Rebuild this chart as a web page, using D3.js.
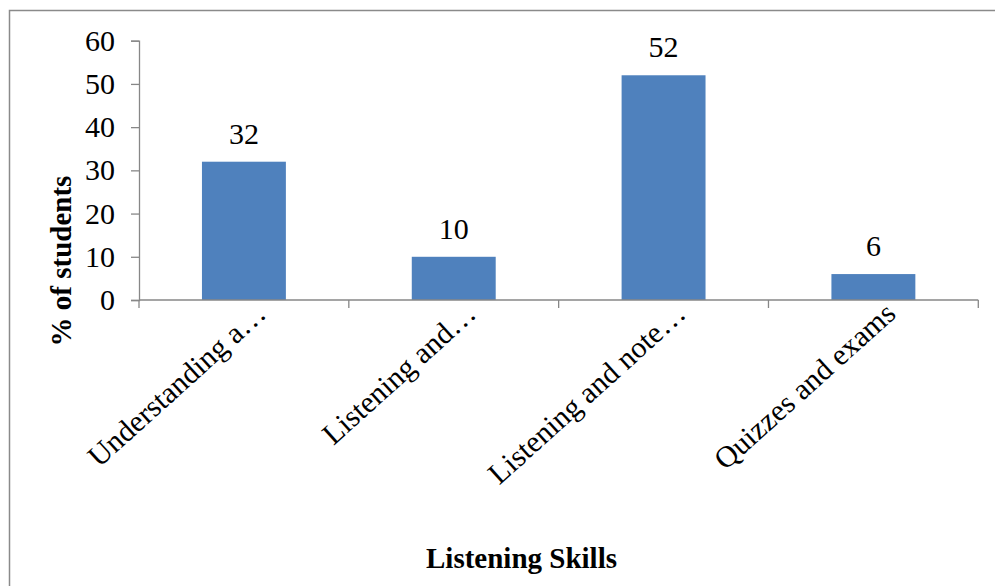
<!DOCTYPE html>
<html>
<head>
<meta charset="utf-8">
<script src="https://cdn.jsdelivr.net/npm/d3@7"></script>
<style>
  html, body { margin: 0; padding: 0; background: #ffffff; }
  svg { display: block; }
  text { font-family: "Liberation Serif", "Times New Roman", serif; fill: #000; }
</style>
</head>
<body>
<svg id="chart" width="995" height="586"></svg>
<script>
// Survey results: share of students naming each listening skill
const categories = ["Understanding a…", "Listening and…", "Listening and note…", "Quizzes and exams"];
const values = [32, 10, 52, 6];
const yTicks = [0, 10, 20, 30, 40, 50, 60];
const yTitle = "% of students";
const xTitle = "Listening Skills";

const W = 995, H = 586;
const plot = { left: 139, right: 978.3, top: 40.7, bottom: 300 };
const axisColor = "#878787";
const barColor = "#4F81BD";

const svg = d3.select("#chart");

// chart-area frame
svg.append("rect")
  .attr("x", 9.5).attr("y", 10.5)
  .attr("width", 1200).attr("height", 1000)
  .attr("fill", "#fff")
  .attr("stroke", "#8a8a8a")
  .attr("stroke-width", 1.5);

const x = d3.scaleBand()
  .domain(categories)
  .range([plot.left, plot.right])
  .paddingInner(0.6)
  .paddingOuter(0.3);

const y = d3.scaleLinear()
  .domain([0, 60])
  .range([plot.bottom, plot.top]);

// bars
svg.append("g").selectAll("rect")
  .data(categories)
  .join("rect")
  .attr("x", d => x(d))
  .attr("width", x.bandwidth())
  .attr("y", (d, i) => y(values[i]))
  .attr("height", (d, i) => y(0) - y(values[i]))
  .attr("fill", barColor);

// value labels above bars
svg.append("g").selectAll("text")
  .data(categories)
  .join("text")
  .attr("x", d => x(d) + x.bandwidth() / 2)
  .attr("y", (d, i) => y(values[i]) - 18)
  .attr("text-anchor", "middle")
  .style("font-size", "30px")
  .text((d, i) => values[i]);

// y axis
const yAxis = d3.axisLeft(y).tickValues(yTicks).tickSize(8).tickPadding(16).tickFormat(d3.format("d"));
const gy = svg.append("g").attr("transform", `translate(${plot.left},0)`).call(yAxis);
gy.select(".domain").attr("stroke", axisColor).attr("stroke-width", 1.3);
gy.selectAll(".tick line").attr("stroke", axisColor).attr("stroke-width", 1.3);
gy.selectAll(".tick text")
  .attr("font-family", null)
  .style("font-size", "30px")
  .attr("fill", "#000");

// x axis: baseline with ticks on category boundaries
const step = x.step();
const boundaries = d3.range(categories.length + 1).map(i => plot.left + i * step);
const gx = svg.append("g");
gx.append("line")
  .attr("x1", plot.left).attr("x2", plot.right)
  .attr("y1", y(0)).attr("y2", y(0))
  .attr("stroke", axisColor).attr("stroke-width", 1.3);
gx.selectAll("line.tick")
  .data(boundaries)
  .join("line")
  .attr("class", "tick")
  .attr("x1", d => d).attr("x2", d => d)
  .attr("y1", y(0)).attr("y2", y(0) + 8)
  .attr("stroke", axisColor).attr("stroke-width", 1.3);

// rotated category labels
gx.selectAll("text")
  .data(categories)
  .join("text")
  .attr("transform", d => `translate(${x(d) + x.bandwidth() / 2 + 24},${y(0) + 16}) rotate(-42)`)
  .attr("text-anchor", "end")
  .style("font-size", "30px")
  .text(d => d);

// axis titles
svg.append("text")
  .attr("transform", "translate(71,261) rotate(-90)")
  .attr("text-anchor", "middle")
  .style("font-size", "29px")
  .style("font-weight", "bold")
  .text(yTitle);

svg.append("text")
  .attr("x", 521.5)
  .attr("y", 568)
  .attr("text-anchor", "middle")
  .style("font-size", "29px")
  .style("font-weight", "bold")
  .text(xTitle);
</script>
</body>
</html>
